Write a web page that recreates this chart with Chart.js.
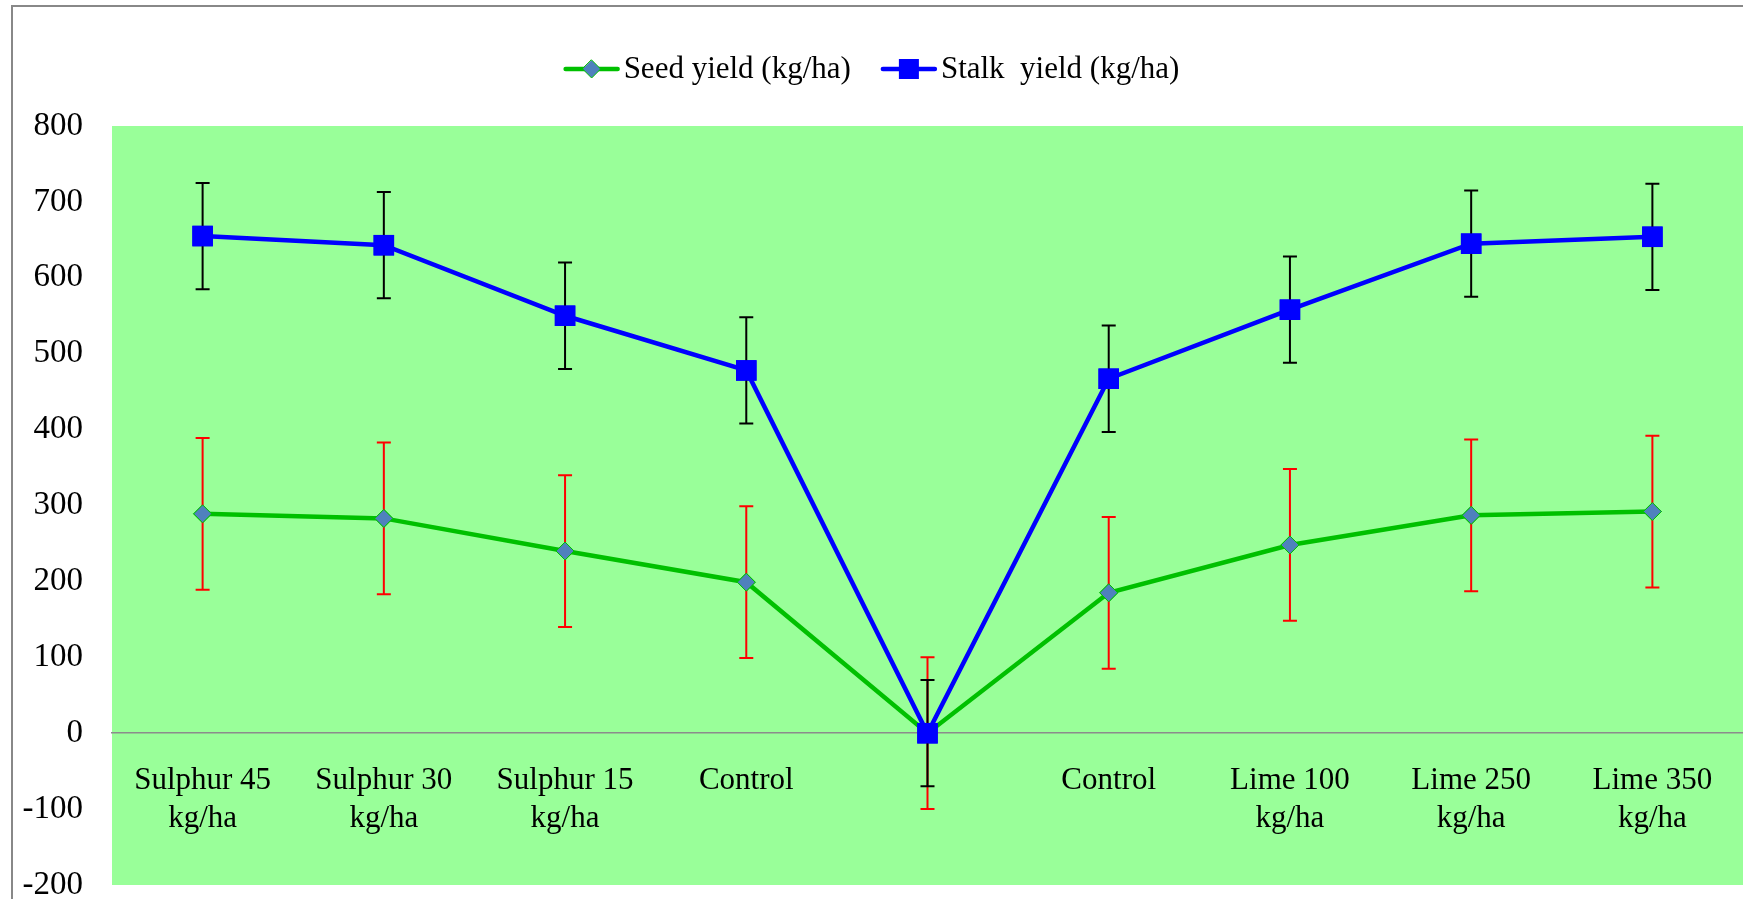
<!DOCTYPE html>
<html>
<head>
<meta charset="utf-8">
<script src="https://cdn.jsdelivr.net/npm/chart.js@4.4.1/dist/chart.umd.min.js"></script>
<style>
html, body { margin: 0; padding: 0; background: #fff; overflow: hidden; }
#wrap { position: relative; width: 1743px; height: 899px; }
#marco { position: absolute; left: 11px; top: 5px; width: 1800px; height: 1000px; border-left: 2px solid #888; border-top: 2px solid #888; }
canvas { position: absolute; left: 0; top: 0; }
</style>
</head>
<body>
<div id="wrap">
  <div id="marco"></div>
  <canvas id="grafica" width="1743" height="899"></canvas>
</div>
<script>
const CATEGORIAS = [
    ['Sulphur 45', 'kg/ha'], ['Sulphur 30', 'kg/ha'], ['Sulphur 15', 'kg/ha'], 'Control', '',
    'Control', ['Lime 100', 'kg/ha'], ['Lime 250', 'kg/ha'], ['Lime 350', 'kg/ha']
];
const SERIES = ['Seed yield (kg/ha)', 'Stalk  yield (kg/ha)'];
const SEMILLA = [289, 283, 240, 199, 0, 185, 248, 287, 292];
const SEMILLA_ERR = [100, 100, 100, 100, 100, 100, 100, 100, 100];
const TALLO = [655, 643, 550, 478, 0, 467, 558, 645, 654];
const TALLO_ERR = [70, 70, 70, 70, 70, 70, 70, 70, 70];
const Y_MIN = -200, Y_MAX = 800, Y_PASO = 100;

const VERDE = '#00c000';
const AZUL = '#0000ff';
const FUENTE = 'Liberation Serif, Times New Roman, serif';
const TAM = 31;

// fondo verde del area de trazado
const fondo = {
    id: 'fondo',
    beforeDraw(chart) {
        const a = chart.chartArea;
        const ctx = chart.ctx;
        ctx.save();
        ctx.fillStyle = '#99ff99';
        ctx.fillRect(a.left, a.top, a.right - a.left, a.bottom - a.top);
        ctx.restore();
    }
};

// barras de error
const errores = {
    id: 'errores',
    afterDatasetsDraw(chart) {
        const ctx = chart.ctx;
        const x = chart.scales.x, y = chart.scales.y;
        const dibujar = (vals, errs, color) => {
            ctx.strokeStyle = color;
            ctx.lineWidth = 2;
            vals.forEach((v, i) => {
                const px = x.getPixelForValue(i);
                const top = y.getPixelForValue(v + errs[i]);
                const bot = y.getPixelForValue(v - errs[i]);
                ctx.beginPath();
                ctx.moveTo(px, top); ctx.lineTo(px, bot);
                ctx.moveTo(px - 7, top); ctx.lineTo(px + 7, top);
                ctx.moveTo(px - 7, bot); ctx.lineTo(px + 7, bot);
                ctx.stroke();
            });
        };
        ctx.save();
        dibujar(SEMILLA, SEMILLA_ERR, '#ff0000');
        dibujar(TALLO, TALLO_ERR, '#000000');
        ctx.restore();
        // volver a pintar los puntos encima
        chart.getSortedVisibleDatasetMetas().slice().reverse().forEach(meta => {
            meta.data.forEach(p => p.draw(ctx, chart.chartArea));
        });
    }
};

// leyenda con linea y marcador
const leyenda = {
    id: 'leyenda',
    afterDraw(chart) {
        const ctx = chart.ctx;
        ctx.save();
        ctx.font = TAM + 'px ' + FUENTE;
        const largo = 56, hueco = 4, separa = 30;
        const anchos = SERIES.map(s => ctx.measureText(s).width);
        const total = anchos[0] + anchos[1] + 2 * (largo + hueco) + separa;
        let x = (chart.width - total) / 2;
        const y = 69;
        SERIES.forEach((s, i) => {
            const color = i === 0 ? VERDE : AZUL;
            ctx.strokeStyle = color;
            ctx.lineWidth = 4.5;
            ctx.lineCap = 'round';
            ctx.beginPath();
            ctx.moveTo(x + 2, y); ctx.lineTo(x + largo - 2, y);
            ctx.stroke();
            const cx = x + largo / 2;
            if (i === 0) {
                ctx.fillStyle = '#4f81bd';
                ctx.strokeStyle = VERDE;
                ctx.lineWidth = 1;
                ctx.beginPath();
                ctx.moveTo(cx, y - 9); ctx.lineTo(cx + 9, y); ctx.lineTo(cx, y + 9); ctx.lineTo(cx - 9, y);
                ctx.closePath();
                ctx.fill(); ctx.stroke();
            } else {
                ctx.fillStyle = AZUL;
                ctx.fillRect(cx - 10, y - 10, 20, 20);
            }
            ctx.fillStyle = '#000';
            ctx.textBaseline = 'middle';
            ctx.textAlign = 'left';
            ctx.fillText(s, x + largo + hueco, y + 1);
            x += largo + hueco + anchos[i] + separa;
        });
        ctx.restore();
    }
};

const ctx = document.getElementById('grafica').getContext('2d');
new Chart(ctx, {
    type: 'line',
    data: {
        labels: CATEGORIAS,
        datasets: [{
            label: SERIES[0],
            data: SEMILLA,
            borderColor: VERDE,
            borderWidth: 4.5,
            pointStyle: 'rectRot',
            pointRadius: 9,
            pointBackgroundColor: '#4f81bd',
            pointBorderColor: VERDE,
            pointBorderWidth: 1,
            tension: 0,
            order: 2
        }, {
            label: SERIES[1],
            data: TALLO,
            borderColor: AZUL,
            borderWidth: 4.5,
            pointStyle: 'rect',
            pointRadius: 14.5,
            pointBackgroundColor: AZUL,
            pointBorderColor: AZUL,
            pointBorderWidth: 0,
            tension: 0,
            order: 1
        }]
    },
    options: {
        responsive: false,
        animation: false,
        events: [],
        layout: { autoPadding: false, padding: { left: 0, top: 126, right: 0, bottom: 14 } },
        plugins: {
            legend: { display: false },
            tooltip: { enabled: false }
        },
        scales: {
            x: {
                position: { y: 0 },
                offset: true,
                afterFit: s => { s.height = 0; s.paddingLeft = 0; s.paddingRight = 0; },
                grid: { display: true, drawOnChartArea: false, drawTicks: true, tickLength: 29, tickColor: 'rgba(0,0,0,0)' },
                border: { display: true, color: '#8c8c8c', width: 1.5 },
                ticks: {
                    color: '#000',
                    font: { family: FUENTE, size: TAM, lineHeight: 1.22 },
                    padding: 0,
                    maxRotation: 0,
                    autoSkip: false
                }
            },
            y: {
                min: Y_MIN,
                max: Y_MAX,
                afterFit: s => { s.width = 112; },
                grid: { display: true, drawOnChartArea: false, drawTicks: true, tickLength: 29, tickColor: 'rgba(0,0,0,0)' },
                border: { display: false },
                ticks: {
                    stepSize: Y_PASO,
                    color: '#000',
                    font: { family: FUENTE, size: 33, lineHeight: 0.8 },
                    padding: 0
                }
            }
        }
    },
    plugins: [fondo, errores, leyenda]
});
</script>
</body>
</html>
